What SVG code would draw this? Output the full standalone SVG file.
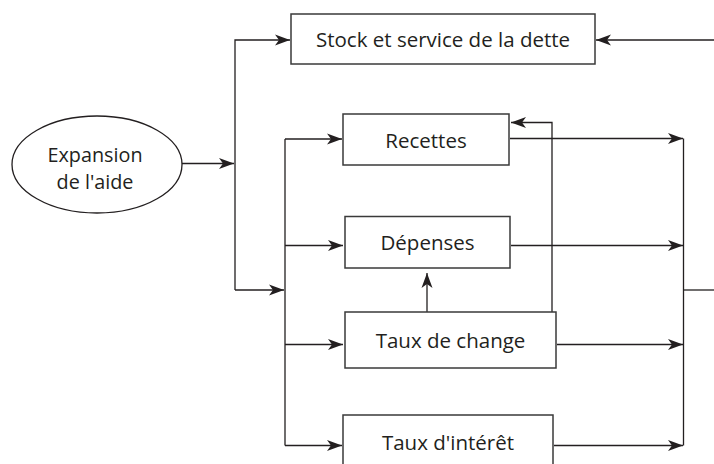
<svg xmlns="http://www.w3.org/2000/svg" width="714" height="464" viewBox="0 0 714 464">
<style>
.box{fill:#fff;stroke:#3a3a3a;stroke-width:1.5}
.ln{fill:none;stroke:#231f20;stroke-width:1.3}
.arr{marker-end:url(#ah)}
text{font-family:"Open Sans","Liberation Sans",sans-serif;font-size:20.5px;fill:#231f20;text-anchor:middle}
.el{font-size:19.8px}
</style>
<defs>
<marker id="ah" markerUnits="userSpaceOnUse" markerWidth="16" markerHeight="12" viewBox="0 0 16 12" refX="15" refY="6" orient="auto">
<path d="M0,0.5 L15,6 L0,11.5 L4,6 z" fill="#231f20"/>
</marker>
</defs>
<rect width="714" height="464" fill="#fff"/>
<g id="connectors">
<line class="ln arr" x1="182" y1="163.5" x2="234" y2="163.5"/>
<polyline class="ln arr" points="235,290 235,40 290,40"/>
<line class="ln arr" x1="235" y1="290" x2="284" y2="290"/>
<line class="ln" x1="285" y1="139" x2="285" y2="445.5"/>
<polyline class="ln arr" points="285,139 342,139"/>
<line class="ln arr" x1="285" y1="245.5" x2="343" y2="245.5"/>
<line class="ln arr" x1="285" y1="344.5" x2="343" y2="344.5"/>
<line class="ln arr" x1="285" y1="445.5" x2="342" y2="445.5"/>
<line class="ln arr" x1="427" y1="312" x2="427" y2="273"/>
<polyline class="ln arr" points="552,312 552,122.5 511,122.5"/>
<line class="ln arr" x1="510" y1="138.5" x2="683" y2="138.5"/>
<line class="ln arr" x1="511" y1="245.5" x2="683" y2="245.5"/>
<line class="ln arr" x1="557" y1="344.5" x2="683" y2="344.5"/>
<line class="ln arr" x1="554" y1="445.5" x2="683" y2="445.5"/>
<line class="ln" x1="683.5" y1="138.5" x2="683.5" y2="445.5"/>
<line class="ln" x1="683.5" y1="290" x2="714" y2="290"/>
<line class="ln arr" x1="714" y1="40" x2="596" y2="40"/>
</g>
<g id="expansion">
<ellipse cx="97" cy="164.5" rx="85" ry="48.5" fill="#fff" stroke="#231f20" stroke-width="1.3"/>
<text class="el" x="95" y="162">Expansion</text>
<text class="el" x="95" y="189">de l'aide</text>
</g>
<g id="stock">
<rect class="box" x="291" y="14" width="304" height="50"/>
<text x="443" y="47">Stock et service de la dette</text>
</g>
<g id="recettes">
<rect class="box" x="343" y="114" width="166" height="51"/>
<text x="426" y="148">Recettes</text>
</g>
<g id="depenses">
<rect class="box" x="345" y="216.5" width="165" height="51.5"/>
<text x="427.5" y="250">Dépenses</text>
</g>
<g id="change">
<rect class="box" x="345" y="312" width="211" height="56"/>
<text x="450.5" y="347.5">Taux de change</text>
</g>
<g id="interet">
<rect class="box" x="343" y="415" width="210" height="58"/>
<text x="448" y="450">Taux d'intérêt</text>
</g>
</svg>
